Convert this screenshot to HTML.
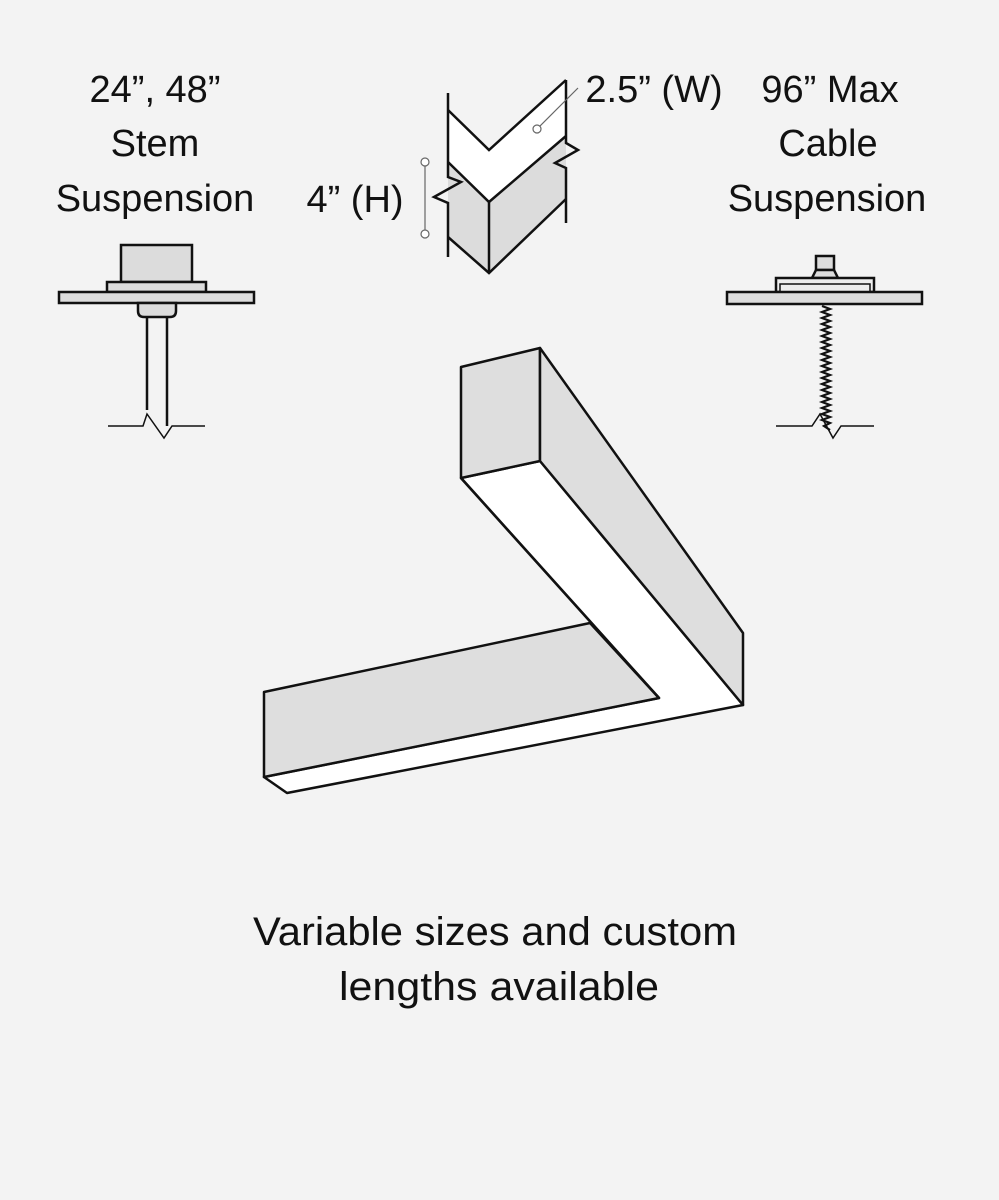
<!DOCTYPE html>
<html><head><meta charset="utf-8"><style>
html,body{margin:0;padding:0;background:#f3f3f3}
svg{display:block}
text{font-family:"Liberation Sans",sans-serif;fill:#111}
</style></head><body>
<svg width="999" height="1200" viewBox="0 0 999 1200" xmlns="http://www.w3.org/2000/svg">
<rect width="999" height="1200" fill="#f3f3f3"/>
<g font-size="38" text-anchor="middle">
<text x="155" y="102">24”, 48”</text>
<text x="155" y="156">Stem</text>
<text x="155" y="211">Suspension</text>
<text x="830" y="102">96” Max</text>
<text x="828" y="156">Cable</text>
<text x="827" y="211">Suspension</text>
<text x="355" y="212">4”  (H)</text>
<text x="654" y="102">2.5” (W)</text>
</g>
<g font-size="40" text-anchor="middle">
<text x="495" y="945" textLength="484" lengthAdjust="spacingAndGlyphs">Variable sizes and custom</text>
<text x="499" y="1000" textLength="320" lengthAdjust="spacingAndGlyphs">lengths available</text>
</g>
<!-- profile -->
<g stroke="#111" stroke-width="2.5" stroke-linejoin="miter" fill="none">
<polygon points="448,162 489,202 566,136 566,80 489,150 448,110" fill="#fff" stroke="none"/>
<polygon points="448,162 489,202 566,136 566,199 489,273 448,237" fill="#dcdcdc" stroke="none"/>
<polyline points="448,93 448,177 461,182 434,197 448,203 448,257"/>
<polyline points="448,110 489,150 566,80"/>
<polyline points="448,162 489,202 566,136"/>
<polyline points="448,237 489,273 566,199"/>
<line x1="489" y1="202" x2="489" y2="273"/>
<polyline points="566,80 566,143 578,150 555,163 566,168 566,223"/>
</g>
<g stroke="#666" stroke-width="1.2" fill="#fff">
<line x1="425" y1="162" x2="425" y2="234"/>
<circle cx="425" cy="162" r="4"/><circle cx="425" cy="234" r="4"/>
<line x1="537" y1="129" x2="578" y2="88"/>
<circle cx="537" cy="129" r="4"/>
</g>
<!-- stem -->
<g stroke="#111" stroke-width="2.5" fill="#dcdcdc">
<rect x="121" y="245" width="71" height="37"/>
<rect x="107" y="282" width="99" height="10"/>
<rect x="59" y="292" width="195" height="11"/>
<path d="M138,303 H176 V311 Q176,317 170,317 H144 Q138,317 138,311 Z"/>
<path d="M147,317 V410 M167,317 V426" fill="none"/>
<polyline points="108,426 143,426 147,414 164,438 172,426 205,426" fill="none" stroke-width="1.5"/>
</g>
<!-- cable -->
<g stroke="#111" stroke-width="2.5" fill="#dcdcdc">
<rect x="816" y="256" width="18" height="14"/>
<polygon points="816,270 834,270 838,278 812,278"/>
<rect x="776" y="278" width="98" height="14" fill="#eee"/>
<rect x="780" y="284" width="90" height="8" fill="#eee" stroke-width="1.5"/>
<rect x="727" y="292" width="195" height="12"/>
<polyline fill="none" stroke-width="2.2" points="822,306 830,309 822,312 830,315 822,318 830,321 822,324 830,327 822,330 830,333 822,336 830,339 822,342 830,345 822,348 830,351 822,354 830,357 822,360 830,363 822,366 830,369 822,372 830,375 822,378 830,381 822,384 830,387 822,390 830,393 822,396 830,399 822,402 830,405 822,408 830,411 822,414 830,417 822,420 830,423 824,426 830,430"/>
<polyline points="776,426 812,426 820,414 833,438 841,426 874,426" fill="none" stroke-width="1.5"/>
</g>
<!-- L fixture -->
<g stroke="#111" stroke-width="2.5" stroke-linejoin="round">
<polygon points="461,478 540,461 743,705 287,793 264,777 659,698" fill="#fff"/>
<polygon points="461,367 540,348 540,461 461,478" fill="#dedede"/>
<polygon points="540,348 743,633 743,705 540,461" fill="#dedede"/>
<polygon points="264,692 590,623 659,698 264,777" fill="#dedede"/>
<line x1="461" y1="478" x2="659" y2="698"/>
</g>
</svg>
</body></html>
